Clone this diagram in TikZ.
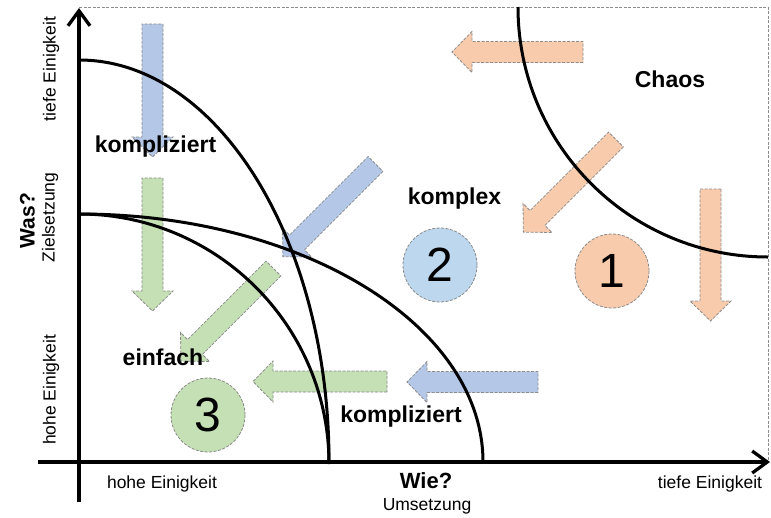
\documentclass[tikz,border=0pt]{standalone}
\usepackage{fontspec}
\setmainfont{Liberation Sans}
\usetikzlibrary{arrows.meta}

\definecolor{blau}{HTML}{B4C7E7}
\definecolor{hellblau}{HTML}{BDD7EE}
\definecolor{gruen}{HTML}{C5E0B4}
\definecolor{lachs}{HTML}{F8CBAD}
\definecolor{rand}{HTML}{8C8C8C}

% block arrow: colour, tail point, direction, length
\newcommand{\blockpfeil}[4]{%
  \draw[pfeil, fill=#1, shift={#2}, rotate=#3]
    (0,-10.5) -- ({#4-20},-10.5) -- ({#4-20},-20.5) -- (#4,0)
    -- ({#4-20},20.5) -- ({#4-20},10.5) -- (0,10.5) -- cycle;}

\begin{document}
\begin{tikzpicture}[x=1pt, y=-1pt,
  pfeil/.style={draw=rand, dash pattern=on 3pt off 1.5pt, line width=0.8pt},
  kreis/.style={circle, draw=rand, dash pattern=on 3pt off 1.5pt, line width=0.8pt,
    minimum size=74pt, inner sep=0pt, font=\fontsize{48}{48}\selectfont},
  feld/.style={font=\fontsize{23}{27}\selectfont\bfseries, inner sep=0pt},
  achse/.style={font=\fontsize{17.5}{21}\selectfont, inner sep=0pt},
  kurve/.style={line width=3pt},
  pfeilspitze/.style={line width=3.3pt, -{Straight Barb[length=15pt, width=22pt]}}]
  \useasboundingbox (0,0) rectangle (771,517);

  % frame
  \draw[rand, dash pattern=on 3pt off 1.5pt, line width=0.6pt] (79,7) -- (768,7) -- (768,462);

  % arrows
  \blockpfeil{blau}{(152.5,24)}{-90}{133}
  \blockpfeil{gruen}{(152.5,178)}{-90}{133}
  \blockpfeil{blau}{(375.5,164)}{-135}{131}
  \blockpfeil{gruen}{(273.5,268.5)}{-135}{131}
  \blockpfeil{lachs}{(616,139.5)}{-135}{131}
  \blockpfeil{lachs}{(583,52)}{180}{131}
  \blockpfeil{lachs}{(710.5,189)}{-90}{132}
  \blockpfeil{blau}{(538,382)}{180}{131}
  \blockpfeil{gruen}{(387,381.5)}{180}{134}

  % circles
  \node[kreis, fill=lachs] (eins) at (612,271) {1};
  \node[kreis, fill=hellblau] (zwei) at (440,265) {2};
  \node[kreis, fill=gruen] (drei) at (208,415) {3};

  % axes
  \coordinate (ursprung) at (79,462);
  \draw[pfeilspitze] (79,502) -- (79,8);
  \draw[pfeilspitze] (38,462) -- (770,462);

  % curves
  \draw[kurve] (79,60) arc[start angle=-90, end angle=0, x radius=250, y radius=402];
  \draw[kurve] (79,214) arc[start angle=-90, end angle=0, x radius=404, y radius=248];
  \draw[kurve] (79,214) arc[start angle=-90, end angle=0, radius=250];
  \draw[kurve] (518,7) arc[start angle=180, end angle=90, radius=250];

  % fields
  \node[feld] (chaos) at (670,79.5) {Chaos};
  \node[feld] (komplex) at (454.5,199) {komplex};
  \node[feld] (kompliziertoben) at (155.5,147) {kompliziert};
  \node[feld] (kompliziertunten) at (401,416.5) {kompliziert};
  \node[feld] (einfach) at (163,357.5) {einfach};

  % axis labels
  \node[achse, rotate=90] (wastief) at (51,69) {tiefe Einigkeit};
  \node[achse, rotate=90] (ziel) at (50,217.5) {Zielsetzung};
  \node[feld, rotate=90, font=\fontsize{21}{25}\selectfont\bfseries] (was) at (27.5,220.5) {Was?};
  \node[achse, rotate=90] (washoch) at (51,390) {hohe Einigkeit};
  \node[achse] (wiehoch) at (162,484) {hohe Einigkeit};
  \node[feld, font=\fontsize{22}{26}\selectfont\bfseries] (wie) at (426,481) {Wie?};
  \node[achse] (umsetzung) at (427,506) {Umsetzung};
  \node[achse] (wietief) at (710,484) {tiefe Einigkeit};
\end{tikzpicture}
\end{document}
